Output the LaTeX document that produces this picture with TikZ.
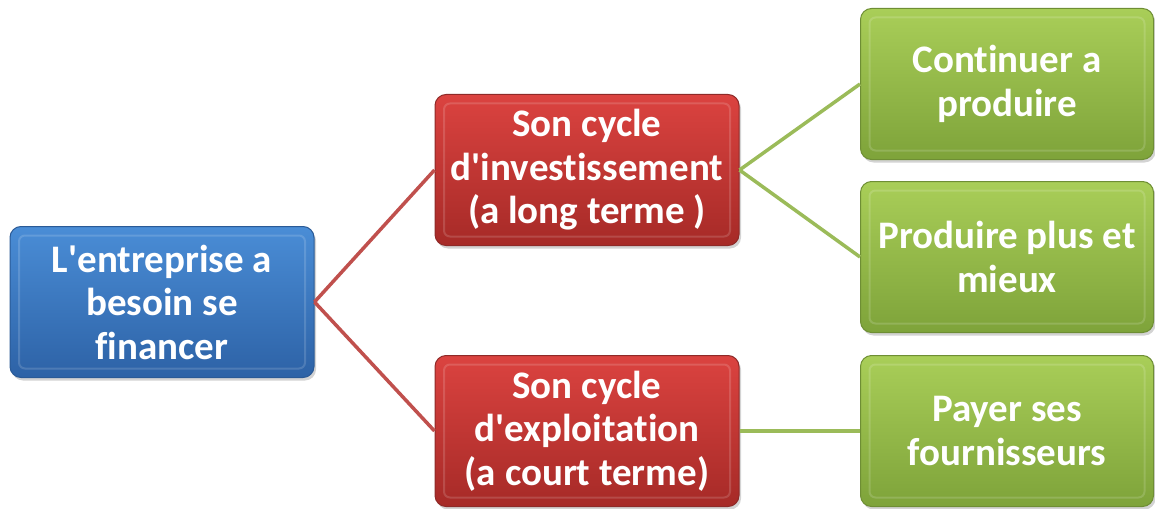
\documentclass[tikz,border=0pt]{standalone}
\usepackage{fontspec}
\setmainfont{Carlito}[Ligatures=NoCommon]
\usetikzlibrary{shadows}
\definecolor{blueTop}{HTML}{4A8DD6}
\definecolor{blueBot}{HTML}{2D62A6}
\definecolor{blueEdge}{HTML}{2A5A96}
\definecolor{redTop}{HTML}{DB4340}
\definecolor{redBot}{HTML}{A62A27}
\definecolor{redEdge}{HTML}{8E2A28}
\definecolor{greenTop}{HTML}{A9CE58}
\definecolor{greenBot}{HTML}{7EA33A}
\definecolor{greenEdge}{HTML}{6E8E34}
\definecolor{redLine}{HTML}{C0504D}
\definecolor{greenLine}{HTML}{9BBB59}
\newcommand\apos{\XeTeXglyph\XeTeXcharglyph"0027\relax}
\begin{document}
\begin{tikzpicture}[x=1pt,y=-1pt]
    \def\bw{304pt}
    \def\bh{151pt}

    \tikzstyle{box}=[rounded corners=11pt,minimum width=\bw,minimum height=\bh,align=center,text=white,font=\fontsize{39}{43.5}\selectfont\bfseries,line width=1pt,drop shadow={shadow xshift=2pt,shadow yshift=-3pt,opacity=0.35},
      path picture={\draw[white,opacity=0.15,line width=2pt,rounded corners=6pt]
        ([xshift=9pt,yshift=-9pt]path picture bounding box.north west) rectangle
        ([xshift=-9pt,yshift=9pt]path picture bounding box.south east);}]
    \tikzstyle{root}=[box,top color=blueTop,bottom color=blueBot,draw=blueEdge]
    \tikzstyle{cycle}=[box,top color=redTop,bottom color=redBot,draw=redEdge]
    \tikzstyle{goal}=[box,minimum width=293pt,top color=greenTop,bottom color=greenBot,draw=greenEdge]

    \useasboundingbox (0,0) rectangle (1155,508);

    \node[root]  (fin) at (162,302) {L\apos entreprise a\\besoin se\\financer};
    \node[cycle] (inv) at (587,170) {Son cycle\\d\apos investissement\\(a long terme )};
    \node[cycle] (exp) at (587,431) {Son cycle\\d\apos exploitation\\(a court terme)};
    \node[goal]  (cont) at (1007,84) {Continuer a\\produire};
    \node[goal]  (plus) at (1007,257) {Produire plus et\\mieux};
    \node[goal]  (pay) at (1007,431) {Payer ses\\fournisseurs};

    \tikzstyle{red link} = [draw=redLine, line width=3.5pt]
    \tikzstyle{green link} = [draw=greenLine, line width=3.5pt]

          \draw [red link] (fin.east) -- (inv.west);
          \draw [red link] (fin.east) -- (exp.west);
          \draw [green link] (inv.east) -- (cont.west);
          \draw [green link] (inv.east) -- (plus.west);
          \draw [green link] (exp.east) -- (pay.west);
\end{tikzpicture}
\end{document}
